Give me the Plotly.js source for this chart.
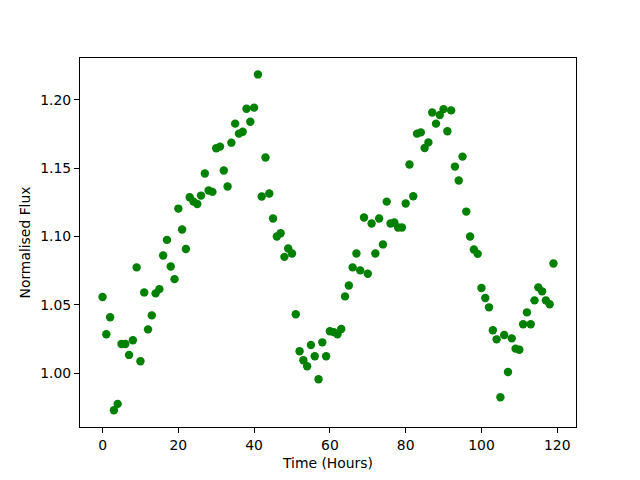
<!DOCTYPE html>
<html>
<head>
<meta charset="utf-8">
<script src="https://cdn.plot.ly/plotly-3.0.1.min.js"></script>
<style>html,body{margin:0;padding:0;background:#fff;}#chart{width:640px;height:480px;}</style>
</head>
<body>
<div id="chart"></div>
<script>
// Time in hours (one reading per hour)
const hours = [];
for (let h = 0; h < 120; h++) hours.push(h);

// Normalised flux
const flux = [
  1.0557, 1.0285, 1.0409, 0.9730, 0.9776, 1.0214, 1.0214, 1.0134, 1.0241, 1.0774,
  1.0088, 1.0591, 1.0321, 1.0423, 1.0584, 1.0615, 1.0861, 1.0975, 1.0781, 1.0688,
  1.1204, 1.1051, 1.0909, 1.1287, 1.1255, 1.1238, 1.1299, 1.1460, 1.1336, 1.1326,
  1.1645, 1.1657, 1.1482, 1.1365, 1.1686, 1.1825, 1.1752, 1.1766, 1.1934, 1.1839,
  1.1942, 1.2185, 1.1292, 1.1577, 1.1314, 1.1131, 1.1000, 1.1024, 1.0851, 1.0912,
  1.0876, 1.0431, 1.0161, 1.0095, 1.0051, 1.0207, 1.0124, 0.9956, 1.0226, 1.0124,
  1.0307, 1.0301, 1.0285, 1.0323, 1.0562, 1.0642, 1.0774, 1.0876, 1.0752, 1.1139,
  1.0727, 1.1095, 1.0876, 1.1131, 1.0942, 1.1255, 1.1095, 1.1102, 1.1066, 1.1066,
  1.1241, 1.1526, 1.1294, 1.1752, 1.1761, 1.1647, 1.1688, 1.1907, 1.1825, 1.1888,
  1.1931, 1.1769, 1.1922, 1.1511, 1.1409, 1.1584, 1.1182, 1.1000, 1.0905, 1.0873,
  1.0623, 1.0550, 1.0482, 1.0314, 1.0248, 0.9825, 1.0280, 1.0009, 1.0255, 1.0180,
  1.0172, 1.0358, 1.0445, 1.0358, 1.0533, 1.0628, 1.0599, 1.0533, 1.0504, 1.0803
];

const xTicks = [0, 20, 40, 60, 80, 100, 120];
const yTicks = [1.00, 1.05, 1.10, 1.15, 1.20];

const font = {family: 'DejaVu Sans, sans-serif', size: 13.9, color: '#000'};

const trace = {
  x: hours, y: flux, type: 'scatter', mode: 'markers',
  marker: {color: 'green', size: 8.4, line: {width: 0}},
  hoverinfo: 'x+y'
};

const axisCommon = {
  showline: true, mirror: true, linecolor: '#000', linewidth: 1.1,
  ticks: 'outside', ticklen: 4.9, tickwidth: 1.1, tickcolor: '#000',
  showgrid: false, zeroline: false, tickfont: font, automargin: false
};

const layout = {
  width: 640, height: 480,
  margin: {l: 80, r: 64, t: 58, b: 53, pad: 0},
  paper_bgcolor: '#fff', plot_bgcolor: '#fff',
  font: font, showlegend: false,
  xaxis: Object.assign({}, axisCommon, {
    range: [-5.95, 124.95], tickvals: xTicks, ticktext: xTicks.map(String),
    title: {text: 'Time (Hours)', font: font, standoff: 6}
  }),
  yaxis: Object.assign({}, axisCommon, {
    range: [0.9607, 1.2305], tickvals: yTicks, ticktext: yTicks.map(v => v.toFixed(2)),
    title: {text: 'Normalised Flux', font: font, standoff: 6}
  })
};

Plotly.newPlot('chart', [trace], layout, {displayModeBar: false, staticPlot: true});
</script>
</body>
</html>
